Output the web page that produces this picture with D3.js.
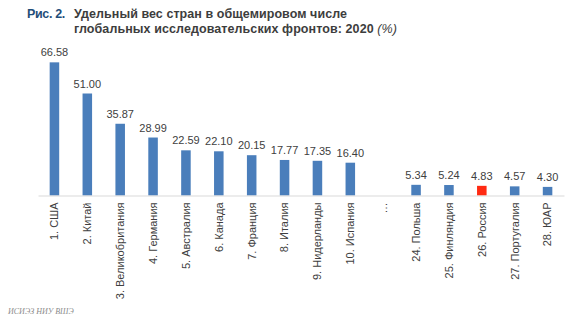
<!DOCTYPE html>
<html><head><meta charset="utf-8">
<script src="https://cdn.jsdelivr.net/npm/d3@7"></script>
<style>body{margin:0;background:#fff}svg{display:block}</style>
</head><body>
<script>
const categories = ["1. США","2. Китай","3. Великобритания","4. Германия","5. Австралия","6. Канада","7. Франция","8. Италия","9. Нидерланды","10. Испания","…","24. Польша","25. Финляндия","26. Россия","27. Португалия","28. ЮАР"];
const values = [66.58,51.00,35.87,28.99,22.59,22.10,20.15,17.77,17.35,16.40,null,5.34,5.24,4.83,4.57,4.30];
const highlight = ["26. Россия"];
const titleLabel = "Рис. 2.";
const titleLines = ["Удельный вес стран в общемировом числе","глобальных исследовательских фронтов: 2020 "];
const titleUnit = "(%)";
const source = "ИСИЭЗ НИУ ВШЭ";

const W=585,H=330;
const svg=d3.select("body").append("svg").attr("width",W).attr("height",H);
const font="'Liberation Sans', Arial, sans-serif";

const x=d3.scaleBand().domain(categories).range([38,564]).paddingInner(0.71).paddingOuter(0.355);
const y=d3.scaleLinear().domain([0,70]).range([195.5,55.5]);

// title
const fs=12.5;
const lab=svg.append("text").attr("x",27).attr("y",18).attr("font-family",font).attr("font-weight","bold")
  .attr("font-size",fs).attr("fill","#1f4e79").text(titleLabel);
const t1=svg.append("text").attr("x",74).attr("y",18).attr("font-family",font).attr("font-weight","bold")
  .attr("font-size",fs).attr("fill","#3d3d3d").text(titleLines[0]);
const t2=svg.append("text").attr("x",74).attr("y",33).attr("font-family",font).attr("font-weight","bold")
  .attr("font-size",fs).attr("fill","#3d3d3d");
t2.append("tspan").text(titleLines[1]);
t2.append("tspan").attr("font-weight","normal").attr("font-style","italic").text(titleUnit);
// fit widths via letter spacing
[[lab,38,titleLabel.length],[t1,273,titleLines[0].length],[t2,323,titleLines[1].length+titleUnit.length]].forEach(([el,w,n])=>{
  const m=el.node().getComputedTextLength();
  el.attr("letter-spacing",((w-m)/n).toFixed(3));
});

// bars
const data=categories.map((c,i)=>({c,v:values[i]}));
svg.append("g").selectAll("rect").data(data.filter(d=>d.v!=null)).join("rect")
  .attr("x",d=>x(d.c)).attr("width",x.bandwidth())
  .attr("y",d=>y(d.v)).attr("height",d=>y(0)-y(d.v))
  .attr("fill",d=>highlight.includes(d.c)?"#ff2a12":"#4a7ebb");

// value labels
svg.append("g").selectAll("text").data(data.filter(d=>d.v!=null)).join("text")
  .attr("x",d=>x(d.c)+x.bandwidth()/2).attr("y",d=>y(d.v)-6)
  .attr("text-anchor","middle").attr("font-family",font).attr("font-size",11).attr("fill","#404040")
  .text(d=>d3.format(".2f")(d.v));

// axis
const ax=svg.append("g").attr("transform",`translate(0,${y(0)})`).call(d3.axisBottom(x).tickSize(0).tickPadding(0));
ax.select(".domain").attr("stroke","#d9d9d9").attr("stroke-width",1);
ax.selectAll(".tick text").attr("font-family",font).attr("font-size",11).attr("fill","#404040")
  .attr("transform","rotate(-90)").attr("text-anchor","end").attr("dy","0.35em").attr("dx","-7").attr("y",0);

// source
svg.append("text").attr("x",8).attr("y",314).attr("font-family","'Liberation Serif', serif").attr("font-style","italic")
  .attr("font-size",8).attr("fill","#8a8a8a").text(source);
</script>
</body></html>
